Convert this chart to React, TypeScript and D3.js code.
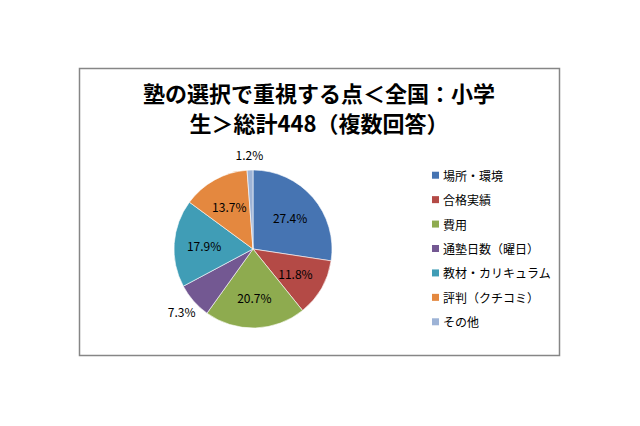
import React from "react";
import * as d3 from "d3";

const titleLines = ["塾の選択で重視する点＜全国：小学", "生＞総計448（複数回答）"];
const categories = ["場所・環境", "合格実績", "費用", "通塾日数（曜日）", "教材・カリキュラム", "評判（クチコミ）", "その他"];
const values = [27.4, 11.8, 20.7, 7.3, 17.9, 13.7, 1.2];
const colors = ["#4674B2", "#B44A46", "#8EAB4F", "#735892", "#409DB6", "#E4883F", "#9DB3D6"];

const W = 640, H = 426;
const cx = 253, cy = 249, R = 79;
const FONT = "'Noto Sans CJK JP', 'Noto Sans', sans-serif";

export default function App() {
  const pie = d3.pie<number>().sort(null).startAngle(0).endAngle(2 * Math.PI);
  const arcs = pie(values);
  const arcGen = d3.arc<d3.PieArcDatum<number>>().innerRadius(0).outerRadius(R);
  const inner = d3.arc<d3.PieArcDatum<number>>().innerRadius(R * 0.62).outerRadius(R * 0.62);
  const outer = d3.arc<d3.PieArcDatum<number>>().innerRadius(R * 1.2).outerRadius(R * 1.2);
  const legendY = d3.scaleBand<number>().domain(d3.range(categories.length)).range([163, 334]);

  return (
    <svg width={W} height={H} style={{ position: "absolute", left: 0, top: 0 }} fontFamily={FONT}>
      <rect x={0} y={0} width={W} height={H} fill="#fff" />
      <rect x={79.5} y={68.5} width={480} height={287} fill="#fff" stroke="#868686" strokeWidth={1.5} />
      {titleLines.map((t, i) => (
        <text key={i} x={319} y={102 + i * 30} textAnchor="middle" fontSize={22} fontWeight="bold" fill="#000">{t}</text>
      ))}
      <g transform={`translate(${cx},${cy})`}>
        {arcs.map((a, i) => (
          <path key={i} d={arcGen(a) as string} fill={colors[i]} stroke="#fff" strokeWidth={0.6} />
        ))}
        {arcs.map((a, i) => {
          const small = values[i] < 8;
          const [x, y] = small ? outer.centroid(a) : inner.centroid(a);
          return (
            <text key={i} x={x} y={y} textAnchor="middle" dominantBaseline="central" fontSize={12} fill="#000">
              {values[i].toFixed(1)}%
            </text>
          );
        })}
      </g>
      {categories.map((c, i) => {
        const y = (legendY(i) as number) + legendY.bandwidth() / 2;
        return (
          <g key={i}>
            <rect x={432} y={y - 3.5} width={7} height={7} fill={colors[i]} />
            <text x={443} y={y} dominantBaseline="central" fontSize={12} fill="#000">{c}</text>
          </g>
        );
      })}
    </svg>
  );
}
